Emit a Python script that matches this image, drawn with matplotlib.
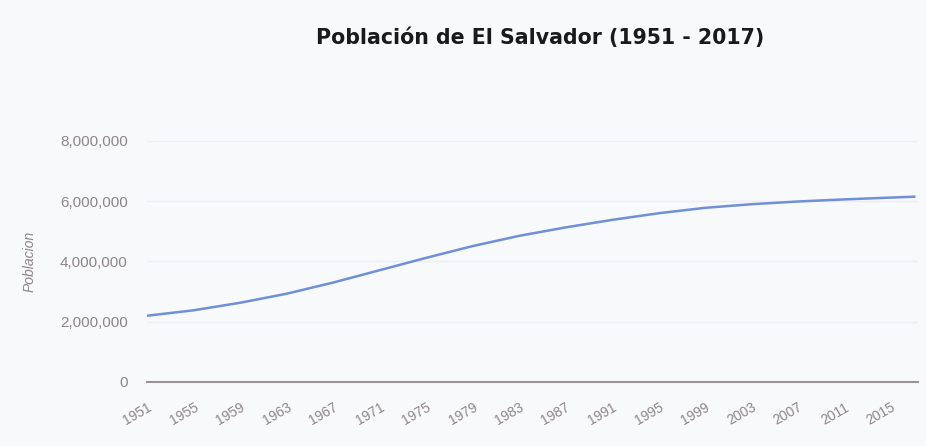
import numpy as np
import matplotlib.pyplot as plt
from matplotlib.ticker import FuncFormatter

# valores estimados a partir del grafico
years = [1951, 1955, 1959, 1963, 1967, 1971, 1975, 1979, 1983, 1987,
         1991, 1995, 1999, 2003, 2007, 2011, 2015, 2017]
population = [2200000, 2380000, 2630000, 2930000, 3300000, 3710000, 4120000,
              4510000, 4850000, 5130000, 5380000, 5600000, 5780000, 5900000,
              5990000, 6060000, 6120000, 6150000]
tick_years = list(range(1951, 2016, 4))
y_ticks = [0, 2000000, 4000000, 6000000, 8000000]

bg = '#f8f9fb'
fig = plt.figure(figsize=(9.26, 4.46), dpi=100, facecolor=bg)
ax = fig.add_axes([0.159, 0.1435, 0.832, 0.5405], facecolor=bg)

ax.plot(years, population, color='#6f8fd8', linewidth=1.8)

ax.set_xlim(1951, 2017.3)
ax.set_ylim(0, 8000000)
ax.set_yticks(y_ticks)
ax.yaxis.set_major_formatter(FuncFormatter(lambda v, p: f'{int(v):,}'))
ax.set_xticks(tick_years)
ax.set_xticklabels([str(y) for y in tick_years], rotation=30, ha='right',
                   rotation_mode='anchor')
for lab in ax.get_xticklabels() + ax.get_yticklabels():
    lab.set_fontfamily('Liberation Sans')

ax.grid(axis='y', color='#eceef2', linewidth=1)
ax.set_axisbelow(True)
for s in ['top', 'right', 'left']:
    ax.spines[s].set_visible(False)
ax.spines['bottom'].set_color('#9a9292')
ax.spines['bottom'].set_linewidth(1.5)
ax.tick_params(axis='both', length=0, colors='#8e8686')
ax.tick_params(axis='y', pad=14, labelsize=11)
ax.tick_params(axis='x', pad=13, labelsize=10)

ax.set_ylabel('Poblacion', style='italic', color='#8e8686', fontsize=10,
              labelpad=17, fontfamily='Liberation Sans')

fig.text(0.583, 0.915, 'Población de El Salvador (1951 - 2017)', ha='center',
         va='center', fontsize=14.8, fontweight='bold', color='#1a1a1a')

fig.savefig('out.png', dpi=100, facecolor=bg)
